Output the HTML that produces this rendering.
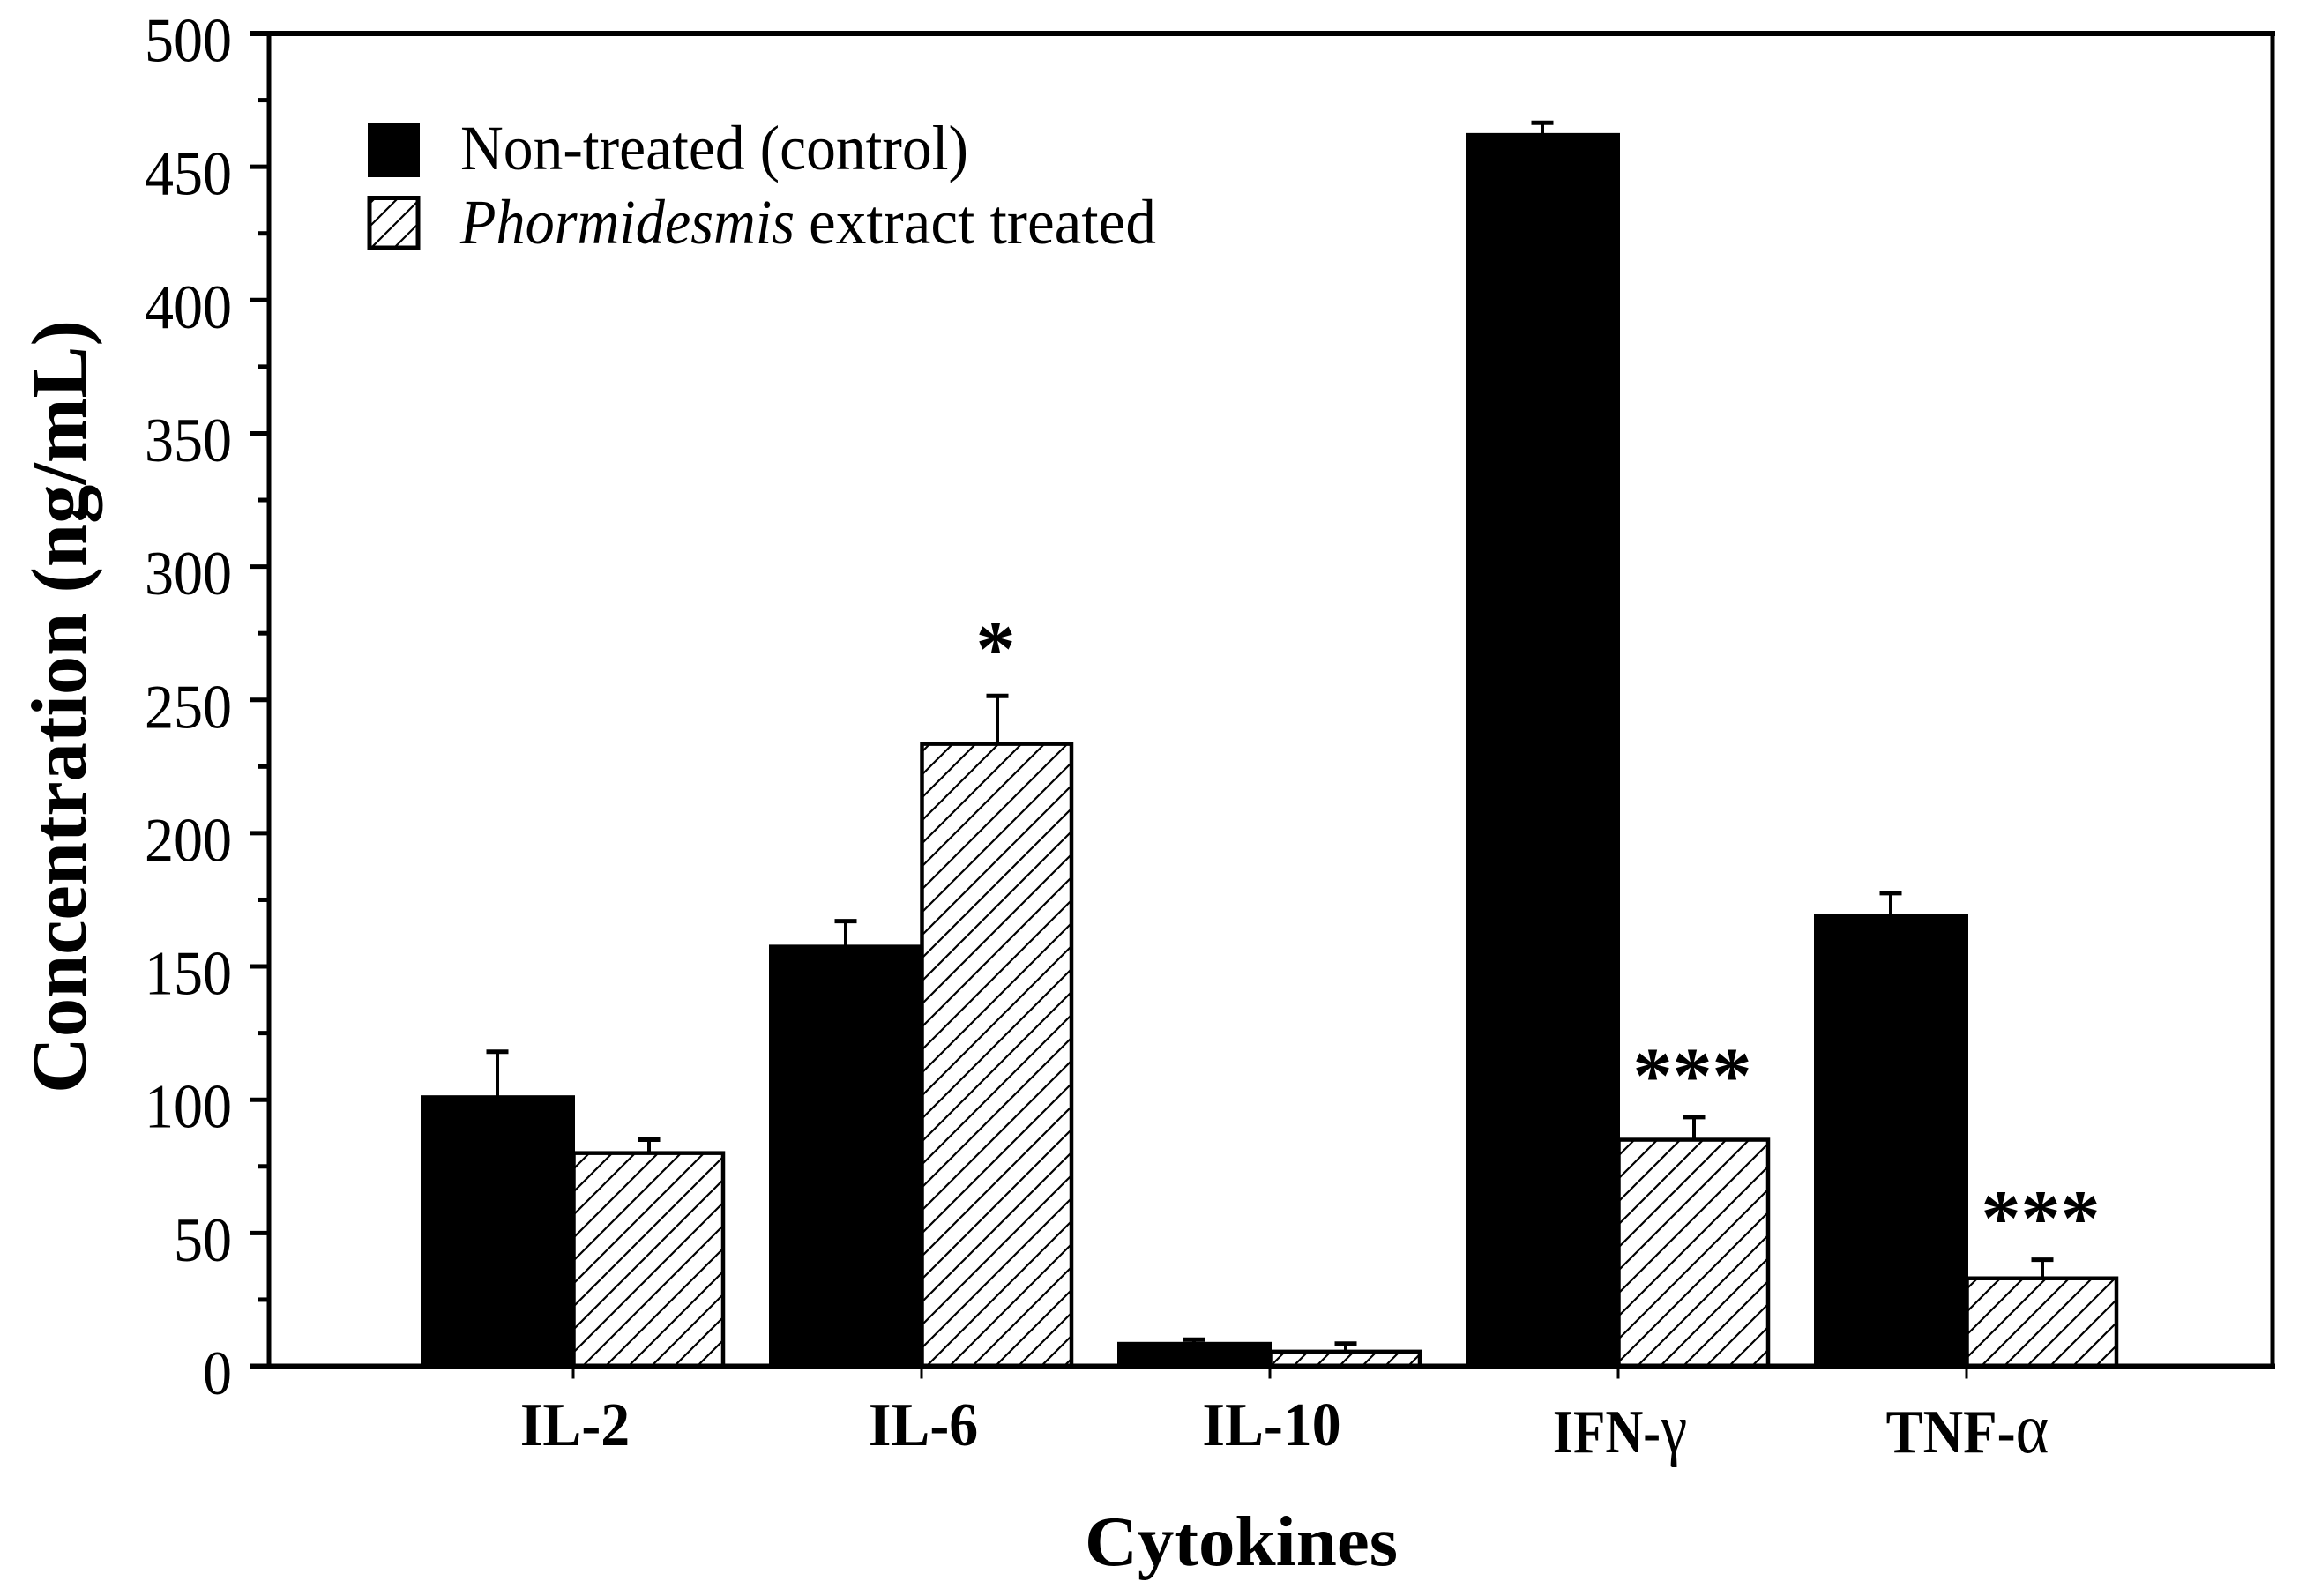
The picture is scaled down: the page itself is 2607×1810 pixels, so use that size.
<!DOCTYPE html>
<html lang="en">
<head>
<meta charset="utf-8">
<title>Cytokine concentration chart</title>
<style>
html,body{margin:0;padding:0;background:#fff;}
svg{display:block;}
text{font-family:"Liberation Serif","DejaVu Serif",serif;fill:#000;}
</style>
</head>
<body>
<svg id="chart" xmlns="http://www.w3.org/2000/svg" width="2607" height="1810" viewBox="0 0 2607 1810">
  <defs>
    <pattern id="hatch" patternUnits="userSpaceOnUse" width="26" height="26">
      <path d="M-6.5 6.5 L6.5 -6.5 M-6.5 32.5 L32.5 -6.5 M19.5 32.5 L32.5 19.5" stroke="#000" stroke-width="2.2" fill="none"/>
    </pattern>
  </defs>
  <rect x="0" y="0" width="2607" height="1810" fill="#fff"/>
  <g id="bars"></g>
  <g id="axes"></g>
  <g id="labels"></g>
  <g>
    <rect x="417" y="140" width="59" height="61" fill="#000"/>
    <text x="522" y="192" font-size="72" textLength="576" lengthAdjust="spacingAndGlyphs">Non-treated (control)</text>
    <rect x="419" y="224.5" width="55" height="56.5" fill="url(#hatch)" stroke="#000" stroke-width="5"/>
    <text x="522" y="276" font-size="72" font-style="italic" textLength="379" lengthAdjust="spacingAndGlyphs">Phormidesmis</text>
    <text x="917" y="276" font-size="72" textLength="394" lengthAdjust="spacingAndGlyphs">extract treated</text>
  </g>
  <text transform="translate(97,1240) rotate(-90)" font-size="89" font-weight="bold" textLength="877" lengthAdjust="spacingAndGlyphs">Concentration (ng/mL)</text>
  <text x="1230" y="1775" font-size="80" font-weight="bold" textLength="355" lengthAdjust="spacingAndGlyphs">Cytokines</text>
</svg>
<script>
const categories = ['IL-2', 'IL-6', 'IL-10', 'IFN-', 'TNF-'];
const categoryGreek = ['', '', '', 'γ', 'α'];
const controlValues = [101, 157.5, 8.5, 462, 169];
const controlErrors = [17, 9.5, 1.5, 4.5, 8.5];
const treatedValues = [80, 233.5, 5.5, 85, 33];
const treatedErrors = [5, 18, 3, 8.5, 7];
const significance = ['', '*', '', '***', '***'];
const yTickLabels = [0, 50, 100, 150, 200, 250, 300, 350, 400, 450, 500];
const yMinorTicks = [25, 75, 125, 175, 225, 275, 325, 375, 425, 475];

const NS = 'http://www.w3.org/2000/svg';
const yZero = 1549.5, yPerUnit = 3.023;
const xFirst = 650, xStep = 395;
function yScale(v) { return yZero - v * yPerUnit; }
function xScale(i) { return xFirst + i * xStep; }
function mk(parent, tag, attrs) {
  const node = document.createElementNS(NS, tag);
  for (const k in attrs) node.setAttribute(k, attrs[k]);
  parent.appendChild(node);
  return node;
}
const barsG = document.getElementById('bars');
const axesG = document.getElementById('axes');
const labelsG = document.getElementById('labels');

function errorBar(cx, v, e, name) {
  const stem = mk(barsG, 'line', {x1: cx, x2: cx, y1: yScale(v), y2: yScale(v + e), stroke: '#000', 'stroke-width': 4});
  
  
  const cap = mk(barsG, 'line', {x1: cx - 12.5, x2: cx + 12.5, y1: yScale(v + e), y2: yScale(v + e), stroke: '#000', 'stroke-width': 5});
  
  
}

categories.forEach(function (cat, i) {
  const c = xScale(i);
  const key = cat.toLowerCase().replace(/[^a-z0-9]/g, '') + (categoryGreek[i] ? (i === 3 ? 'gamma' : 'alpha') : '');

  errorBar(c - 86, controlValues[i], controlErrors[i], key + '-control');
  errorBar(c + 86, treatedValues[i], treatedErrors[i], key + '-treated');

  const black = mk(barsG, 'rect', {x: c - 173, y: yScale(controlValues[i]) - 2, width: 175, height: yZero - yScale(controlValues[i]) + 2, fill: '#000'});
  
  

  const hatched = mk(barsG, 'rect', {x: c + 0.5, y: yScale(treatedValues[i]), width: 169.5, height: yZero - yScale(treatedValues[i]), fill: 'url(#hatch)', stroke: '#000', 'stroke-width': 4.5});
  
  

  const tick = mk(axesG, 'line', {x1: c, x2: c, y1: yZero, y2: yZero + 14, stroke: '#000', 'stroke-width': 3});
  
  

  const label = mk(labelsG, 'text', {x: i === 4 ? c + 1 : c + 2, y: i > 2 ? 1647 : 1639, 'font-size': 70, 'font-weight': 'bold', 'text-anchor': 'middle'});
  
  
  label.textContent = cat;
  if (categoryGreek[i]) {
    const greek = mk(label, 'tspan', {'font-weight': 'normal', 'font-size': 80});
    greek.textContent = categoryGreek[i];
  }
  label.setAttribute('textLength', label.getComputedTextLength() * (i === 3 ? 0.85 : i === 4 ? 0.9 : 0.94));
  label.setAttribute('lengthAdjust', 'spacingAndGlyphs');

  if (significance[i]) {
    const star = mk(labelsG, 'text', {x: c + 84, y: yScale(treatedValues[i] + treatedErrors[i]) + (i === 1 ? -23 : -17), 'font-size': 90, 'font-weight': 'bold', 'text-anchor': 'middle'});
    
    
    star.textContent = significance[i];
  }
});

const yAxis = mk(axesG, 'line', {x1: 305, x2: 305, y1: 36, y2: 1552, stroke: '#000', 'stroke-width': 5});


const rightAxis = mk(axesG, 'line', {x1: 2577, x2: 2577, y1: 36, y2: 1552, stroke: '#000', 'stroke-width': 5});


const topAxis = mk(axesG, 'line', {x1: 283, x2: 2580, y1: yScale(500), y2: yScale(500), stroke: '#000', 'stroke-width': 6});


const xAxis = mk(axesG, 'line', {x1: 283, x2: 2580, y1: yZero, y2: yZero, stroke: '#000', 'stroke-width': 6});



yTickLabels.forEach(function (v) {
  const tick = mk(axesG, 'line', {x1: 283, x2: 305, y1: yScale(v), y2: yScale(v), stroke: '#000', 'stroke-width': 5});
  
  
  const s = String(v);
  const t = mk(labelsG, 'text', {x: 263 - s.length * 33, y: yScale(v) + 31.5, 'font-size': 71, textLength: s.length * 33, lengthAdjust: 'spacingAndGlyphs'});
  
  
  t.textContent = s;
});
yMinorTicks.forEach(function (v) {
  const tick = mk(axesG, 'line', {x1: 293, x2: 305, y1: yScale(v), y2: yScale(v), stroke: '#000', 'stroke-width': 5});
  
  
});
</script>
</body>
</html>
